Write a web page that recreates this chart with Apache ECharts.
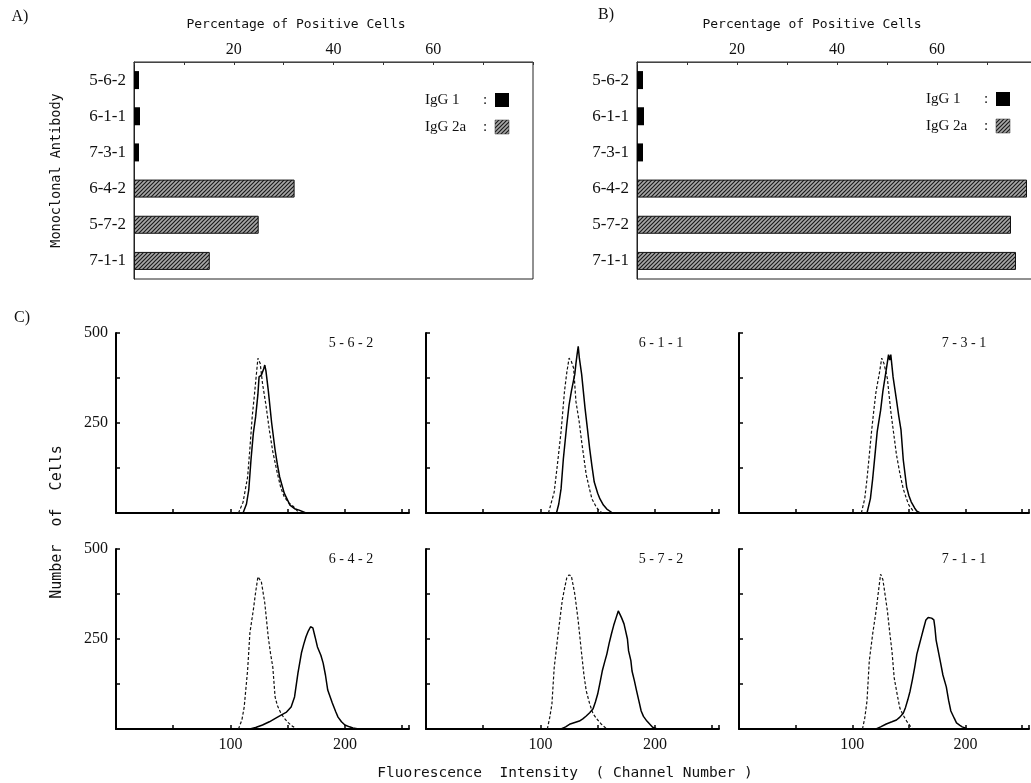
<!DOCTYPE html>
<html>
<head>
<meta charset="utf-8">
<script src="https://cdn.jsdelivr.net/npm/echarts@6/dist/echarts.min.js"></script>
<style>
  body { margin: 0; background: #fff; }
  #chart { width: 1031px; height: 783px; }
</style>
</head>
<body>
<div id="chart"></div>
<script>
  // 单克隆抗体
  const antibodies = ['5-6-2', '6-1-1', '7-3-1', '6-4-2', '5-7-2', '7-1-1'];
  // A) percentage of positive cells
  const pctA_IgG1 = [1.0, 1.2, 1.0, null, null, null];
  const pctA_IgG2a = [null, null, null, 32.2, 25.0, 15.2];
  // B) percentage of positive cells
  const pctB_IgG1 = [1.2, 1.4, 1.2, null, null, null];
  const pctB_IgG2a = [null, null, null, 78.0, 74.8, 75.8];
  const pctTickLabels = [20, 40, 60];
  const channelTickLabels = [100, 200];
  const countTickLabels = [250, 500];
  const isotypes = ['IgG 1', 'IgG 2a'];

  // C) histograms, [channel, number of cells]
  const ctl562 = [[107,0],[111,30],[115,100],[117,180],[119,267],[121,330],[124,430],[126,415],[128,360],[131,300],[134,230],[137,170],[141,110],[144,70],[147,45],[151,28],[155,18],[160,0]];
  const ab562 = [[111,0],[114,25],[116,64],[118,150],[120,222],[122,267],[124,330],[125,378],[127,383],[129,400],[130,411],[131,395],[133,342],[136,250],[139,175],[141,135],[143,100],[147,55],[152,22],[156,12],[160,8],[166,0]];
  const ctl611 = [[107,0],[112,58],[115,140],[118,226],[121,338],[123,390],[125,430],[127,421],[129,402],[131,310],[134,250],[136,198],[140,106],[143,65],[145,39],[149,15],[152,5],[154,0]];
  const ab611 = [[114,0],[116,25],[118,67],[120,150],[123,245],[125,300],[127,338],[129,370],[130,385],[131,415],[132,440],[133,463],[134,430],[136,385],[139,290],[141,235],[143,179],[145,130],[147,86],[150,55],[152,39],[155,22],[158,11],[163,0]];
  const ctl731 = [[108,0],[111,40],[113,95],[115,160],[117,226],[119,285],[121,338],[124,390],[126,430],[128,415],[131,373],[134,282],[137,210],[139,162],[142,110],[145,67],[148,38],[150,22],[155,0]];
  const ab731 = [[113,0],[116,40],[118,95],[120,160],[122,226],[125,285],[127,338],[130,398],[132,440],[133,425],[134,440],[136,378],[139,314],[141,270],[143,231],[145,148],[148,72],[150,48],[152,31],[155,14],[157,5],[160,0]];
  const ctl642 = [[107,0],[110,25],[112,61],[115,164],[117,267],[120,331],[122,380],[124,423],[127,409],[130,350],[133,256],[135,210],[137,172],[139,89],[141,65],[144,44],[147,30],[150,19],[154,8],[158,0]];
  const ab642 = [[117,0],[122,4],[128,11],[134,20],[140,31],[145,40],[149,47],[153,61],[156,89],[159,156],[162,211],[164,235],[166,256],[168,272],[170,284],[172,281],[174,255],[176,228],[179,205],[181,183],[183,150],[185,108],[187,90],[189,72],[192,48],[194,33],[197,20],[200,11],[204,6],[207,3],[212,0]];
  const ctl572 = [[106,0],[108,30],[110,69],[112,170],[115,253],[117,305],[119,356],[121,390],[123,420],[125,428],[127,425],[130,375],[133,300],[136,208],[138,150],[140,106],[143,70],[146,42],[150,25],[153,14],[158,0]];
  const ab572 = [[118,0],[122,6],[126,14],[130,18],[134,22],[137,28],[140,36],[143,45],[146,56],[148,75],[150,97],[152,128],[154,161],[156,185],[158,208],[160,238],[162,264],[164,288],[166,308],[168,328],[170,315],[171,308],[173,292],[174,278],[176,250],[177,217],[179,190],[180,161],[182,135],[184,106],[186,78],[188,50],[190,35],[193,22],[196,12],[198,5],[202,0]];
  const ctl711 = [[109,0],[111,30],[113,78],[115,189],[118,264],[121,328],[123,380],[125,430],[127,415],[128,394],[131,328],[133,270],[135,217],[137,142],[140,90],[142,58],[145,38],[148,22],[153,0]];
  const ab711 = [[121,0],[125,6],[130,14],[135,20],[139,25],[142,33],[145,44],[147,60],[149,81],[151,105],[153,136],[155,170],[157,208],[159,232],[161,256],[163,280],[165,303],[167,310],[168,313],[170,308],[172,303],[173,280],[174,247],[176,215],[178,183],[180,150],[183,117],[185,80],[187,50],[190,30],[192,17],[195,10],[197,6],[202,0]];

  const histPanels = [
    {name: '5-6-2', control: ctl562, stained: ab562},
    {name: '6-1-1', control: ctl611, stained: ab611},
    {name: '7-3-1', control: ctl731, stained: ab731},
    {name: '6-4-2', control: ctl642, stained: ab642},
    {name: '5-7-2', control: ctl572, stained: ab572},
    {name: '7-1-1', control: ctl711, stained: ab711}
  ];

  const SERIF = '"Liberation Serif", "DejaVu Serif", serif';
  const MONO = '"DejaVu Sans Mono", "Liberation Mono", monospace';

  // 斜线填充
  function makeHatch() {
    let c = document.createElement('canvas');
    c.width = 4; c.height = 4;
    let g = c.getContext('2d');
    g.fillStyle = '#a8a8a8';
    g.fillRect(0, 0, 4, 4);
    g.strokeStyle = '#1a1a1a';
    g.lineWidth = 1.2;
    g.beginPath();
    g.moveTo(0, 4); g.lineTo(4, 0);
    g.moveTo(-2, 2); g.lineTo(2, -2);
    g.moveTo(2, 6); g.lineTo(6, 2);
    g.stroke();
    return c;
  }
  const hatch = {image: makeHatch(), repeat: 'repeat'};
  const isotypeFill = ['#000', hatch];

  let chart = echarts.init(document.getElementById('chart'));

  let grid = [], xAxis = [], yAxis = [], series = [], graphic = [];

  const txt = (text, x, y, font, extra, align) => Object.assign({
    type: 'text', x: x, y: y,
    style: {text: text, font: font, fill: '#111', align: align || 'center', verticalAlign: 'middle'}
  }, extra || {});

  // A) and B) bar panels
  const barPanels = [
    {left: 134, width: 399, g1: pctA_IgG1, g2a: pctA_IgG2a, axisName: 'Monoclonal Antibody', legendX: 425, legendY: 100},
    {left: 637, width: 400, g1: pctB_IgG1, g2a: pctB_IgG2a, axisName: '', legendX: 926, legendY: 99}
  ];
  barPanels.forEach((p, i) => {
    grid.push({left: p.left, top: 62, width: p.width, height: 217, show: true, outerBoundsMode: 'none',
      borderColor: '#222', borderWidth: 1, backgroundColor: 'transparent'});
    xAxis.push({
      type: 'value', gridIndex: i, position: 'top', min: 0, max: 80, interval: 10,
      axisLine: {show: true, lineStyle: {color: '#444', width: 1}},
      axisTick: {show: true, inside: true, length: 3, lineStyle: {color: '#333'}},
      splitLine: {show: false},
      axisLabel: {
        margin: 4, color: '#111', fontFamily: SERIF, fontSize: 16,
        formatter: v => pctTickLabels.indexOf(v) >= 0 ? String(v) : ''
      }
    });
    yAxis.push({
      type: 'category', gridIndex: i, data: antibodies, inverse: true,
      name: p.axisName, nameLocation: 'middle', nameRotate: 90, nameGap: 71,
      nameTextStyle: {fontFamily: MONO, fontSize: 13.5, color: '#111'},
      axisLine: {show: true, lineStyle: {color: '#222'}},
      axisTick: {show: false},
      axisLabel: {margin: 8, color: '#111', fontFamily: SERIF, fontSize: 17}
    });
    series.push({
      name: isotypes[0], type: 'bar', xAxisIndex: i, yAxisIndex: i, stack: 'pct' + i,
      barWidth: 18, data: p.g1,
      itemStyle: {color: isotypeFill[0], borderWidth: 0}
    });
    series.push({
      name: isotypes[1], type: 'bar', xAxisIndex: i, yAxisIndex: i, stack: 'pct' + i,
      barWidth: 18, data: p.g2a,
      itemStyle: {color: isotypeFill[1], borderColor: '#111', borderWidth: 1}
    });
    // 图例
    isotypes.forEach((name, j) => {
      let y = p.legendY + j * 27;
      graphic.push(txt(name, p.legendX, y, '15px ' + SERIF, null, 'left'));
      graphic.push(txt(':', p.legendX + 58, y, '15px ' + SERIF, null, 'left'));
      graphic.push({type: 'rect', x: p.legendX + 70, y: y - 7,
        shape: {width: 14, height: 14},
        style: {fill: isotypeFill[j], stroke: j ? '#333' : null, lineWidth: j ? 0.5 : 0}});
    });
  });

  // C) histogram panels
  const colLeft = [116, 426, 739];
  const colWidth = [293, 293, 290];
  const rowTop = [333, 549];
  histPanels.forEach((p, k) => {
    let idx = k + 2;
    let row = Math.floor(k / 3), col = k % 3;
    grid.push({left: colLeft[col], top: rowTop[row], width: colWidth[col], height: 180, outerBoundsMode: 'none'});
    xAxis.push({
      type: 'value', gridIndex: idx, min: 0, max: 256, interval: 50,
      axisLine: {show: true, lineStyle: {color: '#000', width: 2}},
      axisTick: {show: true, inside: true, length: 4, lineStyle: {color: '#000', width: 1.5}},
      splitLine: {show: false},
      axisLabel: {
        show: row === 1, margin: 8, color: '#111', fontFamily: SERIF, fontSize: 16,
        formatter: v => channelTickLabels.indexOf(v) >= 0 ? String(v) : ''
      }
    });
    yAxis.push({
      type: 'value', gridIndex: idx, min: 0, max: 500, interval: 125,
      axisLine: {show: true, lineStyle: {color: '#000', width: 2}},
      axisTick: {show: true, inside: true, length: 4, lineStyle: {color: '#000', width: 1.5}},
      splitLine: {show: false},
      axisLabel: {
        show: col === 0, margin: 8, color: '#111', fontFamily: SERIF, fontSize: 16,
        formatter: v => countTickLabels.indexOf(v) >= 0 ? String(v) : ''
      }
    });
    series.push({
      type: 'line', xAxisIndex: idx, yAxisIndex: idx, data: p.control,
      showSymbol: false, silent: true,
      lineStyle: {color: '#111', width: 1.2, type: [3, 2]}
    });
    series.push({
      type: 'line', xAxisIndex: idx, yAxisIndex: idx, data: p.stained,
      showSymbol: false, silent: true,
      lineStyle: {color: '#000', width: 1.5}
    });
    graphic.push(txt(p.name.split('-').join(' - '), colLeft[col] + (col === 2 ? 225 : 235),
      rowTop[row] + 10, '14px ' + SERIF));
  });

  // 面板标题
  graphic.push(txt('A)', 20, 17, '16px ' + SERIF));
  graphic.push(txt('B)', 606, 15, '16px ' + SERIF));
  graphic.push(txt('C)', 22, 318, '16px ' + SERIF));
  graphic.push(txt('Percentage of Positive Cells', 296, 25, '13px ' + MONO));
  graphic.push(txt('Percentage of Positive Cells', 812, 25, '13px ' + MONO));
  graphic.push(txt('Number  of  Cells', 57, 522, '15px ' + MONO, {rotation: Math.PI / 2}));
  graphic.push(txt('Fluorescence  Intensity  ( Channel Number )', 565, 773, '14.5px ' + MONO));

  chart.setOption({
    animation: false,
    backgroundColor: '#fff',
    grid: grid,
    xAxis: xAxis,
    yAxis: yAxis,
    series: series,
    graphic: graphic
  });
</script>
</body>
</html>
